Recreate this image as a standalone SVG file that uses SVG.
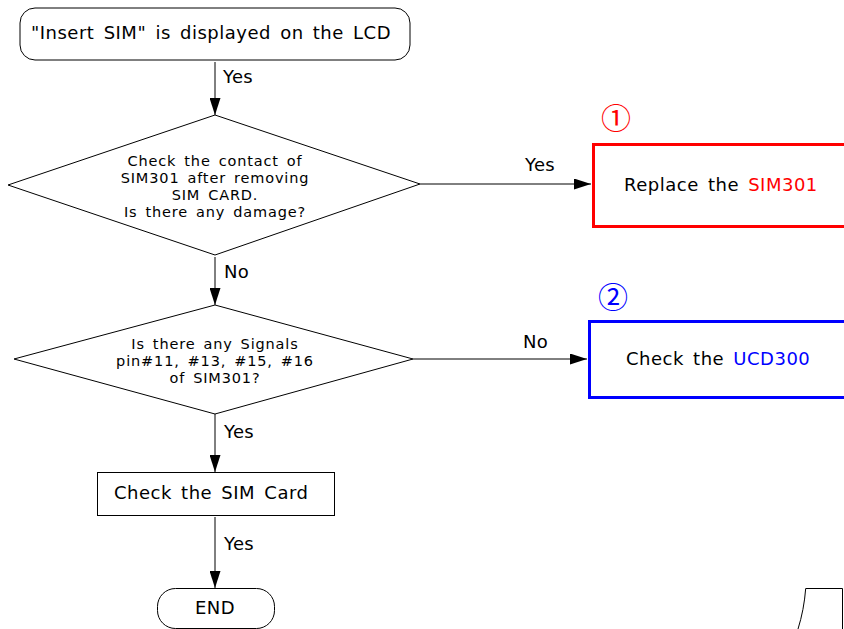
<svg xmlns="http://www.w3.org/2000/svg" width="844" height="629" viewBox="0 0 844 629">
<style>
  text { font-family: "DejaVu Sans", Verdana, sans-serif; fill: #000; }
  .t { font-size: 18px; letter-spacing: 0.5px; word-spacing: 3px; }
  .d { font-size: 14.5px; letter-spacing: 0.85px; word-spacing: 2.5px; }
  .lbl { font-size: 18px; letter-spacing: 0.3px; }
  .node { fill: #fff; stroke: #000; stroke-width: 1; }
  .conn { stroke: #000; stroke-width: 1; fill: none; }
  .num { font-size: 30px; font-family: "Noto Sans CJK JP", "DejaVu Sans", sans-serif; }
</style>
<defs>
  <marker id="ah" markerWidth="17" markerHeight="11" refX="17" refY="5.5" orient="auto" markerUnits="userSpaceOnUse" viewBox="0 0 17 11">
    <path d="M0,0 L17,5.5 L0,11 Z" fill="#000"/>
  </marker>
</defs>
<rect width="844" height="629" fill="#fff"/>

<g id="connectors">
  <line class="conn" x1="215" y1="62" x2="215" y2="115" marker-end="url(#ah)"/>
  <line class="conn" x1="420" y1="184" x2="591" y2="184" marker-end="url(#ah)"/>
  <line class="conn" x1="215" y1="257" x2="215" y2="305" marker-end="url(#ah)"/>
  <line class="conn" x1="413" y1="359" x2="587" y2="359" marker-end="url(#ah)"/>
  <line class="conn" x1="215" y1="414" x2="215" y2="472" marker-end="url(#ah)"/>
  <line class="conn" x1="215" y1="517" x2="215" y2="588" stroke="#777" marker-end="url(#ah)"/>
  <text class="lbl" x="223" y="83">Yes</text>
  <text class="lbl" x="525" y="171">Yes</text>
  <text class="lbl" x="224" y="278">No</text>
  <text class="lbl" x="523" y="348">No</text>
  <text class="lbl" x="224" y="438">Yes</text>
  <text class="lbl" x="224" y="550">Yes</text>
</g>

<g id="start">
  <rect class="node" x="20" y="8" width="390" height="52" rx="15"/>
  <text class="t" x="211" y="39" text-anchor="middle">"Insert SIM" is displayed on the LCD</text>
</g>

<g id="decision1">
  <polygon class="node" points="215,115 420,184 215,255 8,185"/>
  <text class="d" x="215" y="166" text-anchor="middle">Check the contact of</text>
  <text class="d" x="215" y="183" text-anchor="middle">SIM301 after removing</text>
  <text class="d" x="215" y="200" text-anchor="middle">SIM CARD.</text>
  <text class="d" x="215" y="217" text-anchor="middle">Is there any damage?</text>
</g>

<g id="replace">
  <rect x="593.5" y="144.5" width="255" height="82" fill="#fff" stroke="#f00" stroke-width="3"/>
  <text class="t" x="624" y="191">Replace the <tspan fill="#f00">SIM301</tspan></text>
  <text class="num" x="616" y="129" text-anchor="middle" style="fill:#f00">①</text>
</g>

<g id="decision2">
  <polygon class="node" points="215,305 413,359 215,414 14,359"/>
  <text class="d" x="215" y="349" text-anchor="middle">Is there any Signals</text>
  <text class="d" x="215" y="366" text-anchor="middle">pin#11, #13, #15, #16</text>
  <text class="d" x="215" y="383" text-anchor="middle">of SIM301?</text>
</g>

<g id="checkucd">
  <rect x="589.5" y="321.5" width="259" height="76" fill="#fff" stroke="#00f" stroke-width="3"/>
  <text class="t" x="626" y="365">Check the <tspan fill="#00f">UCD300</tspan></text>
  <text class="num" x="613" y="308" text-anchor="middle" style="fill:#00f">②</text>
</g>

<g id="checksim">
  <rect class="node" x="97.5" y="472.5" width="237" height="43"/>
  <text class="t" x="114" y="499">Check the SIM Card</text>
</g>

<g id="end">
  <rect class="node" x="157.5" y="588.5" width="117" height="40" rx="18"/>
  <text class="t" x="215" y="614" text-anchor="middle">END</text>
</g>

<g id="partial">
  <path class="conn" d="M798,629 Q804,610 805.7,588.5 L842.5,588.5 L842.5,629"/>
</g>
</svg>
